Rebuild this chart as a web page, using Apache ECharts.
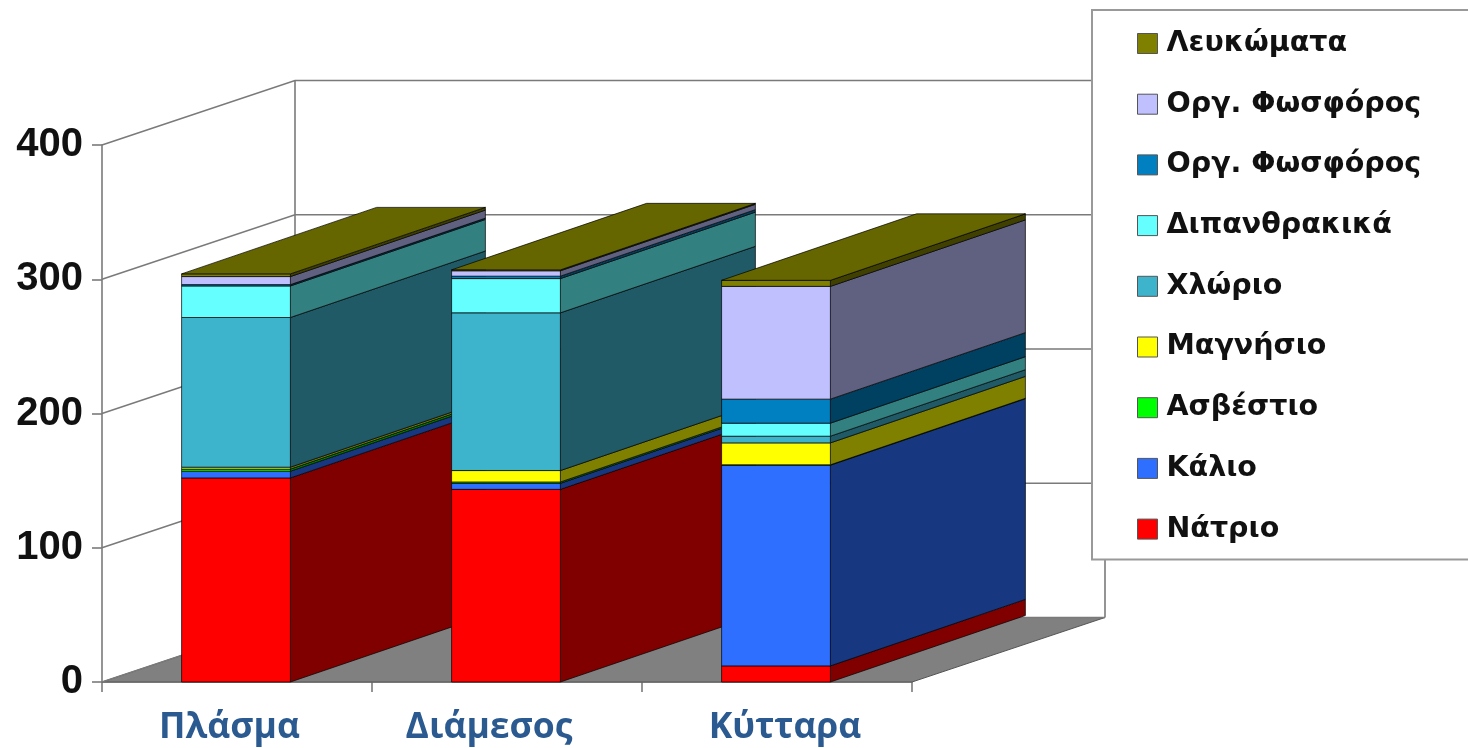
<!DOCTYPE html>
<html>
<head>
<meta charset="utf-8">
<style>html,body{margin:0;padding:0;background:#fff}#chart{width:1468px;height:748px}</style>
<script src="https://cdn.jsdelivr.net/npm/echarts@6/dist/echarts.min.js"></script>
</head>
<body>
<div id="chart"></div>
<script>
// Ionic composition of body fluid compartments, stacked per compartment.
const compartments = ['Πλάσμα', 'Διάμεσος', 'Κύτταρα'];
const axisTicks = [0, 100, 200, 300, 400];

const natrium      = [152, 143.5, 12];
const kalium       = [5, 4.5, 149.5];
const calcium      = [1.6, 1, 0.3];
const magnesium    = [1.4, 8.5, 16.3];
const chloride     = [111.5, 117.5, 5];
const bicarbonate  = [23.5, 25.5, 9.7];
const organicPhosB = [1, 1.8, 17.9];
const organicPhosL = [6, 4, 84];
const proteins     = [2, 0.7, 4.5];

// Two components carry the same caption; the trailing space keeps their legend rows apart.
const seriesNames = ['Νάτριο', 'Κάλιο', 'Ασβέστιο', 'Μαγνήσιο', 'Χλώριο', 'Διπανθρακικά', 'Οργ. Φωσφόρος', 'Οργ. Φωσφόρος ', 'Λευκώματα'];
const seriesValues = [natrium, kalium, calcium, magnesium, chloride, bicarbonate, organicPhosB, organicPhosL, proteins];
const seriesColours = ['#ff0000', '#2e6fff', '#00ff00', '#ffff00', '#3eb4cc', '#66ffff', '#0080c0', '#c0c0ff', '#808000'];

// Oblique projection of the chart box and of the bars.
const WALL_DX = 193, WALL_DY = -64.5;
const BAR_DX = 195, BAR_DY = -66.5;
const BAR_SHARE = 0.403, BAR_NUDGE = -1;

function shade(hex, k) {
  const n = parseInt(hex.slice(1), 16);
  const c = [n >> 16, (n >> 8) & 255, n & 255].map(v => Math.round(v * k));
  return 'rgb(' + c.join(',') + ')';
}

const EDGE = 'rgba(0,0,0,0.7)';

function renderBar(seriesIndex) {
  const base = seriesColours[seriesIndex];
  const isTop = seriesIndex === seriesValues.length - 1;
  return function (params, api) {
    const cat = api.value(0);
    const lo = api.coord([cat, api.value(1)]);
    const hi = api.coord([cat, api.value(2)]);
    const w = api.size([1, 0])[0] * BAR_SHARE;
    const x0 = lo[0] - w / 2 + BAR_NUDGE, x1 = x0 + w;
    // Paint order runs left to right, then bottom to top, always above the box.
    const order = 10 + cat * 100 + seriesIndex * 2;
    const face = (pts, fill, z) => ({
      type: 'polygon', shape: { points: pts }, z2: z,
      style: { fill: fill, stroke: EDGE, lineWidth: 1 }
    });
    const children = [
      face([[x1, lo[1]], [x1 + BAR_DX, lo[1] + BAR_DY], [x1 + BAR_DX, hi[1] + BAR_DY], [x1, hi[1]]], shade(base, 0.5), order),
      face([[x0, lo[1]], [x1, lo[1]], [x1, hi[1]], [x0, hi[1]]], base, order + 1)
    ];
    if (isTop) {
      children.push(face([[x0, hi[1]], [x1, hi[1]], [x1 + BAR_DX, hi[1] + BAR_DY], [x0 + BAR_DX, hi[1] + BAR_DY]], shade(base, 0.8), order + 1));
    }
    return { type: 'group', children: children };
  };
}

// Floor, back wall and the gridlines that wrap around the box.
function renderBox(params, api) {
  const band = api.size([1, 0])[0];
  const left = api.coord([0, 0])[0] - band / 2;
  const right = api.coord([compartments.length - 1, 0])[0] + band / 2;
  const y = api.coord([0, api.value(0)])[1];
  const bottom = api.coord([0, axisTicks[0]])[1];
  const top = api.coord([0, axisTicks[axisTicks.length - 1]])[1];
  const line = { stroke: '#7a7a7a', lineWidth: 1.6, fill: null };
  const children = [{
    type: 'polyline', z2: 1, style: line,
    shape: { points: [[left, y], [left + WALL_DX, y + WALL_DY], [right + WALL_DX, y + WALL_DY]] }
  }];
  if (params.dataIndex === 0) {
    children.push({
      type: 'polygon', z2: 0,
      style: { fill: '#808080', stroke: '#555555', lineWidth: 1 },
      shape: { points: [[left, bottom], [right, bottom], [right + WALL_DX, bottom + WALL_DY], [left + WALL_DX, bottom + WALL_DY]] }
    });
    children.push({ type: 'line', z2: 1, style: line, shape: { x1: left + WALL_DX, y1: bottom + WALL_DY, x2: left + WALL_DX, y2: top + WALL_DY } });
    children.push({ type: 'line', z2: 1, style: line, shape: { x1: right + WALL_DX, y1: bottom + WALL_DY, x2: right + WALL_DX, y2: top + WALL_DY } });
  }
  return { type: 'group', children: children };
}

const series = [{
  type: 'custom', name: 'box', silent: true,
  data: axisTicks.map(v => [v]),
  encode: { y: 0 },
  renderItem: renderBox,
  clip: false
}];

const running = compartments.map(() => 0);
seriesValues.forEach((values, i) => {
  series.push({
    type: 'custom',
    name: seriesNames[i],
    itemStyle: { color: seriesColours[i] },
    encode: { x: 0, y: [1, 2] },
    data: values.map((v, c) => {
      const row = [c, running[c], running[c] + v];
      running[c] += v;
      return row;
    }),
    renderItem: renderBar(i),
    clip: false
  });
});

// Caption shifts along the axis, one per compartment.
const captionPadding = [[0, 15, 0, 0], [0, 36, 0, 0], [0, 0, 0, 16]];

const chart = echarts.init(document.getElementById('chart'), null, { renderer: 'canvas' });
chart.setOption({
  animation: false,
  backgroundColor: '#ffffff',
  grid: { left: 102, top: 145, width: 810, height: 537 },
  xAxis: {
    type: 'category',
    data: compartments.map((name, i) => ({ value: name, textStyle: { padding: captionPadding[i] } })),
    boundaryGap: true,
    axisLine: { lineStyle: { color: '#7a7a7a', width: 1.6 } },
    axisTick: { show: true, length: 10, alignWithLabel: false, lineStyle: { color: '#7a7a7a', width: 1.6 } },
    axisLabel: { margin: 28, color: '#2b5a90', fontFamily: 'Open Sans', fontWeight: 'bold', fontSize: 35.5 },
    splitLine: { show: false }
  },
  yAxis: {
    type: 'value',
    min: 0, max: 400, interval: 100,
    axisLine: { show: true, lineStyle: { color: '#7a7a7a', width: 1.6 } },
    axisTick: { show: true, length: 10, lineStyle: { color: '#7a7a7a', width: 1.6 } },
    axisLabel: { margin: 19, color: '#111111', fontFamily: 'Liberation Sans', fontWeight: 'bold', fontSize: 40, padding: [3, 0, 0, 0] },
    splitLine: { show: false }
  },
  legend: {
    left: 1092, top: 10,
    orient: 'vertical',
    icon: 'rect',
    itemWidth: 20, itemHeight: 20, itemGap: 31.7,
    padding: [19, 400, 16, 45],
    backgroundColor: '#ffffff',
    borderColor: '#999999', borderWidth: 2,
    selectedMode: false,
    align: 'left',
    data: seriesNames.slice().reverse(),
    itemStyle: { borderColor: '#555555', borderWidth: 1 },
    textStyle: { color: '#111111', fontFamily: 'DejaVu Sans', fontWeight: 'bold', fontSize: 28.5, padding: [0, 0, 0, 4] },
    z: 20
  },
  tooltip: { show: false },
  series: series
});
</script>
</body>
</html>
